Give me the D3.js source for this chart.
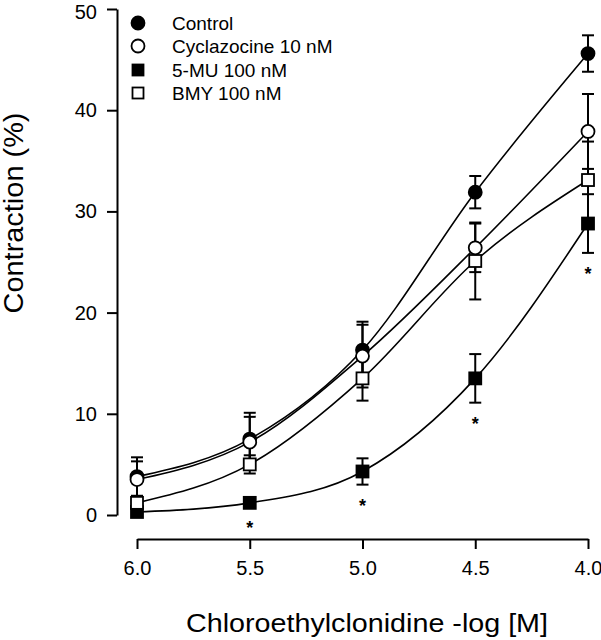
<!DOCTYPE html>
<html><head><meta charset="utf-8">
<script src="https://cdn.jsdelivr.net/npm/d3@7"></script>
<style>body{margin:0;background:#fff;} svg{display:block;font-family:"Liberation Sans",Arial,sans-serif;}</style>
</head><body>
<svg id="c" width="601" height="640"></svg>
<script>
const doses = [6.0, 5.5, 5.0, 4.5, 4.0];
const xTicks = ["6.0", "5.5", "5.0", "4.5", "4.0"];
const yTicks = [0, 10, 20, 30, 40, 50];
const seriesNames = ["Control", "Cyclazocine 10 nM", "5-MU 100 nM", "BMY 100 nM"];
const controlVals = [3.8, 7.5, 16.3, 31.9, 45.6];
const controlErr = [1.9, 2.6, 2.8, 1.6, 1.8];
const cyclaVals = [3.5, 7.2, 15.7, 26.4, 37.9];
const cyclaErr = [1.8, 2.5, 3.1, 2.4, 3.7];
const muVals = [0.3, 1.2, 4.3, 13.5, 28.8];
const muErr = [0.3, 0.4, 1.3, 2.4, 2.9];
const bmyVals = [1.2, 5.0, 13.5, 25.1, 33.1];
const bmyErr = [0.6, 0.9, 2.2, 3.8, 3.8];
const muSignificant = [false, true, true, true, true];

const series = [
  {name: seriesNames[0], vals: controlVals, err: controlErr, shape: "circle", fill: "#000"},
  {name: seriesNames[1], vals: cyclaVals, err: cyclaErr, shape: "circle", fill: "#fff"},
  {name: seriesNames[2], vals: muVals, err: muErr, shape: "square", fill: "#000"},
  {name: seriesNames[3], vals: bmyVals, err: bmyErr, shape: "square", fill: "#fff"}
];

const svg = d3.select("#c");
const x = d3.scaleLinear().domain([6.0, 4.0]).range([137, 588]);
const y = d3.scaleLinear().domain([0, 50]).range([515, 9]);

// Y axis
const yAxis = d3.axisLeft(y).tickValues(yTicks).tickSize(10).tickSizeOuter(0).tickPadding(10);
const gy = svg.append("g").attr("transform", "translate(117,0)").call(yAxis);
gy.select(".domain").attr("stroke-width", 2);
gy.selectAll(".tick line").attr("stroke-width", 2);
gy.selectAll(".tick text").attr("font-size", 20).attr("font-family", "Liberation Sans, Arial, sans-serif").attr("fill", "#000")
  .attr("dy", d => d === 50 ? "0.46em" : "0.32em");

// X axis
const xAxis = d3.axisBottom(x).tickValues(doses).tickFormat((d, i) => xTicks[i]).tickSize(10).tickSizeOuter(0).tickPadding(12);
const gx = svg.append("g").attr("transform", "translate(0,539)").call(xAxis);
gx.select(".domain").attr("stroke-width", 2);
gx.selectAll(".tick line").attr("stroke-width", 2);
gx.selectAll(".tick text").attr("font-size", 20).attr("font-family", "Liberation Sans, Arial, sans-serif").attr("fill", "#000");

// Axis titles
svg.append("text").attr("x", 367).attr("y", 632).attr("text-anchor", "middle")
  .attr("font-size", 25).attr("textLength", 362).attr("lengthAdjust", "spacingAndGlyphs")
  .text("Chloroethylclonidine -log [M]");
svg.append("text").attr("transform", "translate(23,213) rotate(-90)").attr("text-anchor", "middle")
  .attr("font-size", 27).attr("textLength", 201).attr("lengthAdjust", "spacingAndGlyphs")
  .text("Contraction (%)");

// Lines
const line = d3.line().x(d => x(d[0])).y(d => y(d[1])).curve(d3.curveMonotoneX);
series.forEach(s => {
  svg.append("path").attr("d", line(doses.map((d, i) => [d, s.vals[i]])))
    .attr("fill", "none").attr("stroke", "#000").attr("stroke-width", 1.6);
});

// Error bars
series.forEach(s => {
  doses.forEach((d, i) => {
    const cx = x(d), top = y(s.vals[i] + s.err[i]), bot = y(s.vals[i] - s.err[i]);
    const g = svg.append("g").attr("stroke", "#000").attr("stroke-width", 2);
    g.append("line").attr("x1", cx).attr("x2", cx).attr("y1", top).attr("y2", bot);
    g.append("line").attr("x1", cx - 6).attr("x2", cx + 6).attr("y1", top).attr("y2", top);
    g.append("line").attr("x1", cx - 6).attr("x2", cx + 6).attr("y1", bot).attr("y2", bot);
  });
});

function marker(g, shape, fill, cx, cy, size) {
  if (shape === "circle") {
    g.append("circle").attr("cx", cx).attr("cy", cy).attr("r", size / 2)
      .attr("fill", fill).attr("stroke", "#000").attr("stroke-width", 1.8);
  } else {
    const s = size - 1;
    g.append("rect").attr("x", cx - s / 2).attr("y", cy - s / 2).attr("width", s).attr("height", s)
      .attr("fill", fill).attr("stroke", "#000").attr("stroke-width", 1.8);
  }
}

// Markers
[0, 2, 3, 1].forEach(k => {
  const s = series[k];
  doses.forEach((d, i) => marker(svg, s.shape, s.fill, x(d), y(s.vals[i]), 13));
});

// Significance asterisks
doses.forEach((d, i) => {
  if (muSignificant[i]) {
    svg.append("text").attr("x", x(d)).attr("y", y(muVals[i] - muErr[i]) + 27)
      .attr("text-anchor", "middle").attr("font-size", 18).attr("font-weight", "bold").text("*");
  }
});

// Legend
const legY = [23, 46, 70, 93];
series.forEach((s, i) => {
  marker(svg, s.shape, s.fill, 138, legY[i], s.shape === "circle" ? 13 : 12);
  svg.append("text").attr("x", 172).attr("y", legY[i]).attr("dy", "0.35em")
    .attr("font-size", 19).text(s.name);
});
</script>
</body></html>
